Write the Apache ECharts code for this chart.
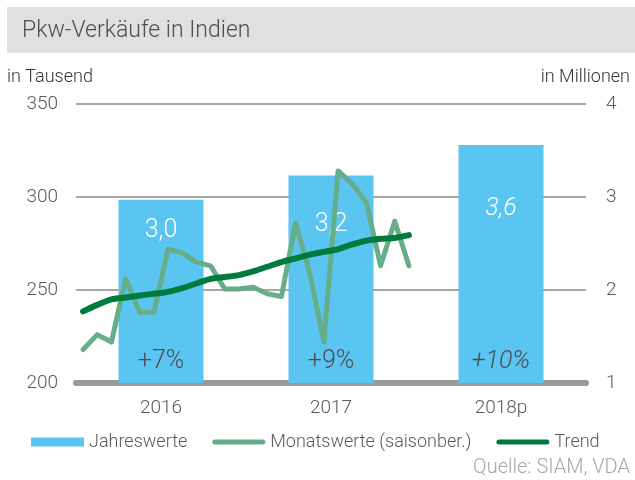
<!DOCTYPE html>
<html><head><meta charset="utf-8">
<script src="https://cdn.jsdelivr.net/npm/echarts@6/dist/echarts.min.js"></script>
<style>html,body{margin:0;padding:0;background:#fff}#c{width:635px;height:480px}</style>
</head><body><div id="c"></div>
<script>
// ---- data ----
var years = ['2016', '2017', '2018p'];
var annualMillions = [2.97, 3.23, 3.56];
var annualLabels = ['3,0', '3,2', '3,6'];
var growthLabels = ['+7%', '+9%', '+10%'];
var monthlyThousands = [218, 226, 222, 256, 238, 238, 272, 270, 265, 263, 250.5, 250.5,
                        251.5, 248, 246.5, 286, 259, 222, 314, 307, 297, 263, 287, 263];
var trendThousands = [238.5, 242, 245, 246, 247, 248, 249, 251, 253.5, 256, 257, 258,
                      260, 262.5, 265, 267, 269, 270.5, 272, 274.5, 276.5, 277.5, 278, 279.5];
var leftTicks = {min: 200, max: 350, interval: 50};
var rightTicks = {min: 1, max: 4, interval: 1};

// month categories for the hidden line axis (3 years x 12 months)
var months = [];
years.forEach(function (y) { for (var m = 1; m <= 12; m++) months.push(y.slice(0, 4) + '-' + m); });

var FONT = 'Roboto, "Noto Sans", sans-serif';
var W = 300;
var GREY = '#595959';
var lastIdx = years.length - 1;

var chart = echarts.init(document.getElementById('c'), null, {renderer: 'canvas'});
var labelDist = [18, 37, 51];
var lineIcon = 'path://M2.5,0 H50.5 A2.5,2.5 0 0 1 50.5,5 H2.5 A2.5,2.5 0 0 1 2.5,0 Z';

chart.setOption({
  animation: false,
  textStyle: {fontFamily: FONT, fontWeight: W},
  graphic: [{type: 'rect', left: 7, top: 7, shape: {width: 628, height: 46}, style: {fill: '#e0e0e0'}, z: -1}],
  title: [
    {text: 'Pkw-Verkäufe in Indien', left: 17, top: 15, textStyle: {fontFamily: FONT, fontSize: 23, fontWeight: W, color: '#4d4d4d'}},
    {text: 'in Tausend', left: 2, top: 63, textStyle: {fontFamily: FONT, fontSize: 18, fontWeight: W, color: '#333'}},
    {text: 'in Millionen', right: 0, top: 63, textStyle: {fontFamily: FONT, fontSize: 18, fontWeight: W, color: '#333'}},
    {text: 'Quelle: SIAM, VDA', right: 0, top: 453, textStyle: {fontFamily: FONT, fontSize: 20, fontWeight: W, color: '#a6a6a6'}}
  ],
  legend: {
    left: 26, top: 428, itemGap: 25, itemWidth: 53, itemHeight: 9,
    textStyle: {fontFamily: FONT, fontSize: 18, fontWeight: W, color: GREY},
    data: [
      {name: 'Jahreswerte', icon: 'rect'},
      {name: 'Monatswerte (saisonber.)', icon: lineIcon},
      {name: 'Trend', icon: lineIcon}
    ]
  },
  grid: {left: 76, right: 49, top: 104, bottom: 97, containLabel: false},
  xAxis: [
    {type: 'category', data: years, boundaryGap: true,
     axisLine: {show: true, lineStyle: {color: '#999', width: 6}},
     axisTick: {show: false},
     axisLabel: {fontFamily: FONT, fontWeight: W, fontSize: 19, color: GREY, margin: 16}},
    {type: 'category', data: months, boundaryGap: true, show: false}
  ],
  yAxis: [
    {type: 'value', min: leftTicks.min, max: leftTicks.max, interval: leftTicks.interval,
     axisLine: {show: false}, axisTick: {show: false},
     axisLabel: {fontFamily: FONT, fontWeight: W, fontSize: 19, color: GREY, margin: 18},
     splitLine: {lineStyle: {color: '#a6a6a6', width: 2}}},
    {type: 'value', min: rightTicks.min, max: rightTicks.max, interval: rightTicks.interval,
     axisLine: {show: false}, axisTick: {show: false},
     axisLabel: {fontFamily: FONT, fontWeight: W, fontSize: 19, color: GREY, margin: 20},
     splitLine: {show: false}}
  ],
  series: [
    {name: 'Jahreswerte', type: 'bar', yAxisIndex: 1, barWidth: 85,
     itemStyle: {color: '#5bc5f2'},
     data: annualMillions.map(function (v, i) {
       return {value: v, label: {show: true, position: 'insideTop', distance: labelDist[i],
         formatter: annualLabels[i], fontFamily: FONT, fontWeight: W, fontSize: 25, color: '#fff',
         fontStyle: i === lastIdx ? 'italic' : 'normal'}};
     }), z: 1},
    {name: 'growth', type: 'bar', yAxisIndex: 1, barWidth: 85, barGap: '-100%',
     itemStyle: {color: 'rgba(0,0,0,0)'}, silent: true,
     data: annualMillions.map(function (v, i) {
       return {value: v, label: {show: true, position: 'insideBottom', distance: 9,
         formatter: growthLabels[i], fontFamily: FONT, fontWeight: W, fontSize: 25, color: '#4d4d4d',
         fontStyle: i === lastIdx ? 'italic' : 'normal'}};
     }), z: 2},
    {name: 'Monatswerte (saisonber.)', type: 'line', xAxisIndex: 1, yAxisIndex: 0,
     data: monthlyThousands, symbol: 'none', showSymbol: false,
     itemStyle: {color: '#66ad8a'},
     lineStyle: {color: '#66ad8a', width: 5, join: 'round', cap: 'round'}, z: 3},
    {name: 'Trend', type: 'line', xAxisIndex: 1, yAxisIndex: 0,
     data: trendThousands, symbol: 'none', showSymbol: false, smooth: 0.3,
     itemStyle: {color: '#007a3d'},
     lineStyle: {color: '#007a3d', width: 6, join: 'round', cap: 'round'}, z: 4}
  ]
});
</script></body></html>
